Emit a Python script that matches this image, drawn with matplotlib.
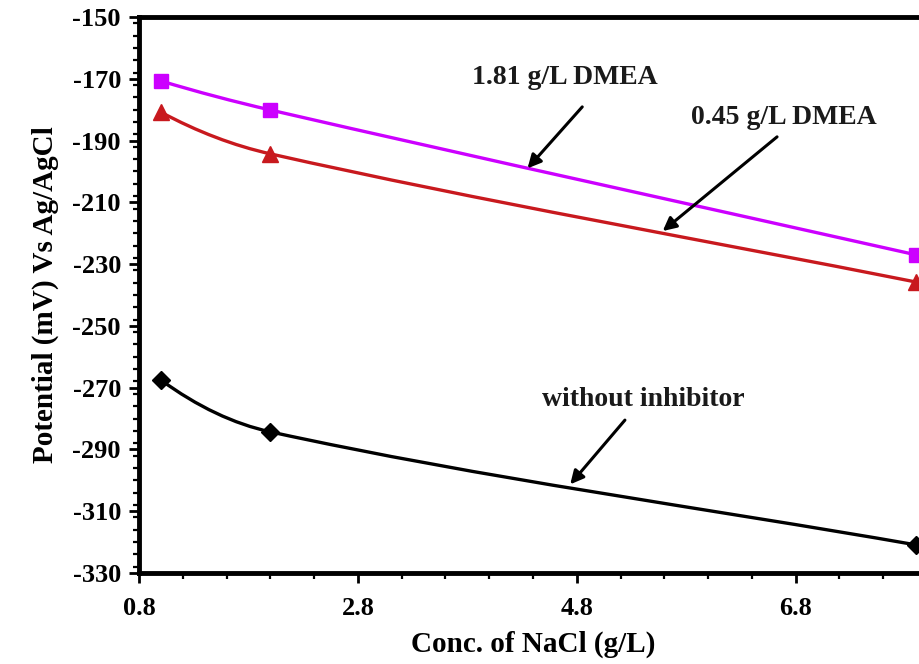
"""Open circuit potential vs NaCl concentration, with and without DMEA."""
import numpy as np
import matplotlib.pyplot as plt
from matplotlib.path import Path
from matplotlib.patches import PathPatch
from matplotlib.ticker import MultipleLocator

plt.rcParams['font.family'] = ['Liberation Serif', 'DejaVu Serif']
plt.rcParams['font.weight'] = 'bold'
plt.rcParams['axes.unicode_minus'] = False

# NaCl concentration (g/L)
conc = [1.0, 2.0, 7.9]
# potential (mV vs Ag/AgCl)
pot_181 = [-170.7, -180.1, -227.0]
pot_045 = [-180.8, -194.3, -235.8]
pot_blank = [-267.5, -284.3, -320.9]

x_ticks = [0.8, 2.8, 4.8, 6.8]
y_ticks = list(range(-150, -331, -20))


def smooth_path(x, y):
    # cubic bezier through the points (chord weighted slopes)
    x = np.asarray(x, float)
    y = np.asarray(y, float)
    h = np.diff(x)
    s = np.diff(y) / h
    m = np.empty_like(x)
    m[1:-1] = (h[:-1] * s[:-1] + h[1:] * s[1:]) / (h[:-1] + h[1:])
    m[0] = 2 * s[0] - m[1]
    m[-1] = s[-1]
    verts = [(x[0], y[0])]
    codes = [Path.MOVETO]
    for i in range(len(h)):
        verts += [(x[i] + h[i] / 3, y[i] + m[i] * h[i] / 3),
                  (x[i + 1] - h[i] / 3, y[i + 1] - m[i + 1] * h[i] / 3),
                  (x[i + 1], y[i + 1])]
        codes += [Path.CURVE4] * 3
    return Path(verts, codes)


fig = plt.figure(figsize=(9.19, 6.64), dpi=100)
# axes runs past the right edge of the picture (cropped like the original)
ax = fig.add_axes([139 / 919, 91 / 664, 788 / 919, 556 / 664])

series = [
    (pot_181, '#cc00ff', 's', 10),
    (pot_045, '#c8191e', '^', 11),
    (pot_blank, 'black', 'D', 9),
]
for vals, col, mk, ms in series:
    ax.add_patch(PathPatch(smooth_path(conc, vals), facecolor='none',
                           edgecolor=col, lw=2.4, zorder=3))
    ax.plot(conc, vals, ls='none', marker=mk, ms=ms, color=col,
            clip_on=False, zorder=4)

ax.set_xticks(x_ticks)
ax.set_yticks(y_ticks)
ax.set_xlim(0.8, 8.0)
ax.set_ylim(-330, -150)
ax.xaxis.set_minor_locator(MultipleLocator(0.4))
ax.yaxis.set_minor_locator(MultipleLocator(4))
ax.tick_params(which='major', direction='out', length=7, width=2,
               labelsize=19, pad=6)
ax.tick_params(which='minor', direction='out', length=4, width=1.6)
ax.tick_params(axis='x', pad=10)
for sp in ax.spines.values():
    sp.set_linewidth(3.5)

ax.set_xlabel('Conc. of NaCl (g/L)', fontsize=21, fontweight='bold',
              labelpad=8)
ax.set_ylabel('Potential (mV) Vs Ag/AgCl', fontsize=21, fontweight='bold',
              labelpad=10)

# labels with arrows
notes = [
    ('1.81 g/L DMEA', (4.69, -169.7), (4.85, -179.1), (4.35, -199.0)),
    ('0.45 g/L DMEA', (6.69, -182.4), (6.63, -188.8), (5.585, -219.3)),
    ('without inhibitor', (5.41, -273.7), (5.24, -280.5), (4.74, -301.3)),
]
for txt, tpos, tail, head in notes:
    ax.text(tpos[0], tpos[1], txt, ha='center', va='center', fontsize=20,
            fontweight='bold', color='#1a1a1a')
    ax.annotate('', xy=head, xytext=tail,
                arrowprops=dict(arrowstyle='-|>', color='black', lw=2.2,
                                mutation_scale=20, shrinkA=0, shrinkB=0))

plt.savefig('out.png', dpi=100)
